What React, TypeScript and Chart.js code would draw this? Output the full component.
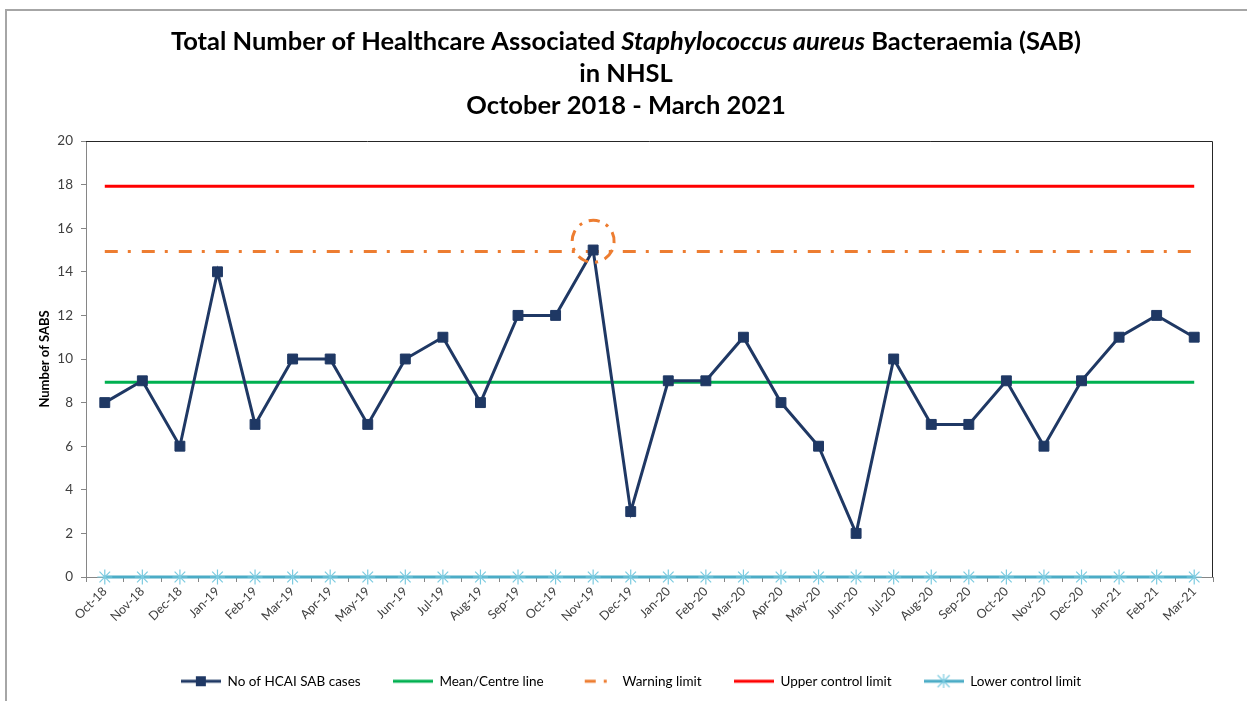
import React, { useEffect, useRef } from 'react';
import { Chart, registerables } from 'chart.js';

Chart.register(...registerables);

const months = [
  'Oct-18', 'Nov-18', 'Dec-18', 'Jan-19', 'Feb-19', 'Mar-19', 'Apr-19', 'May-19', 'Jun-19', 'Jul-19',
  'Aug-19', 'Sep-19', 'Oct-19', 'Nov-19', 'Dec-19', 'Jan-20', 'Feb-20', 'Mar-20', 'Apr-20', 'May-20',
  'Jun-20', 'Jul-20', 'Aug-20', 'Sep-20', 'Oct-20', 'Nov-20', 'Dec-20', 'Jan-21', 'Feb-21', 'Mar-21',
];
const sabCases = [8, 9, 6, 14, 7, 10, 10, 7, 10, 11, 8, 12, 12, 15, 3, 9, 9, 11, 8, 6, 2, 10, 7, 7, 9, 6, 9, 11, 12, 11];
const meanValue = 8.93;
const warningLimit = 14.93;
const upperLimit = 17.93;
const lowerLimit = 0;
const yTicks = [0, 2, 4, 6, 8, 10, 12, 14, 16, 18, 20];
const highlightedMonth = 'Nov-19';
const highlightCentre = 15.4;

const titleLine1 = [
  { text: 'Total Number of Healthcare Associated ', italic: false },
  { text: 'Staphylococcus aureus', italic: true },
  { text: ' Bacteraemia (SAB)', italic: false },
];
const titleLine2 = 'in NHSL';
const titleLine3 = 'October 2018 - March 2021';

const FONT = 'Lato, "Noto Sans", sans-serif';
const NAVY = '#1f3864';
const GREEN = '#00b050';
const ORANGE = '#ed7d31';
const RED = '#ff0000';
const BLUE = '#4bacc6';
const STAR = '#7ccbe0';
const DASHDOT = [13, 10, 3, 11];

function symbolCanvas(draw: (ctx: CanvasRenderingContext2D) => void) {
  const c = document.createElement('canvas');
  c.width = 40;
  c.height = 14;
  const ctx = c.getContext('2d')!;
  draw(ctx);
  return c;
}

function hLine(ctx: CanvasRenderingContext2D, color: string) {
  ctx.strokeStyle = color;
  ctx.lineWidth = 3;
  ctx.beginPath();
  ctx.moveTo(0, 7);
  ctx.lineTo(40, 7);
  ctx.stroke();
}

const framePlugin = {
  id: 'frame',
  beforeDraw(chart: any) {
    const ctx = chart.ctx;
    ctx.save();
    ctx.fillStyle = '#ffffff';
    ctx.fillRect(0, 0, chart.width, chart.height);
    ctx.strokeStyle = '#a6a6a6';
    ctx.lineWidth = 2;
    ctx.beginPath();
    ctx.moveTo(6, chart.height);
    ctx.lineTo(6, 10);
    ctx.lineTo(chart.width, 10);
    ctx.stroke();
    ctx.restore();
  },
  beforeDatasetsDraw(chart: any) {
    const { ctx, chartArea } = chart;
    ctx.save();
    ctx.strokeStyle = '#262626';
    ctx.lineWidth = 1;
    ctx.beginPath();
    ctx.moveTo(chartArea.left, chartArea.top + 0.5);
    ctx.lineTo(chartArea.right - 0.5, chartArea.top + 0.5);
    ctx.lineTo(chartArea.right - 0.5, chartArea.bottom);
    ctx.stroke();
    ctx.restore();
  },
};

const titlePlugin = {
  id: 'mixedTitle',
  afterDraw(chart: any) {
    const ctx = chart.ctx;
    const cx = 626;
    const size = 25.5;
    ctx.save();
    ctx.fillStyle = '#000000';
    ctx.textBaseline = 'middle';
    ctx.textAlign = 'left';
    const fontFor = (italic: boolean) => `${italic ? 'italic ' : ''}bold ${size}px ${FONT}`;
    let total = 0;
    const widths = titleLine1.map((p) => {
      ctx.font = fontFor(p.italic);
      const w = ctx.measureText(p.text).width;
      total += w;
      return w;
    });
    let x = cx - total / 2;
    titleLine1.forEach((p, i) => {
      ctx.font = fontFor(p.italic);
      ctx.fillText(p.text, x, 42);
      x += widths[i];
    });
    ctx.font = fontFor(false);
    ctx.textAlign = 'center';
    ctx.fillText(titleLine2, cx, 74);
    ctx.fillText(titleLine3, cx, 106);
    ctx.restore();
  },
};

const highlightPlugin = {
  id: 'highlight',
  afterDatasetsDraw(chart: any) {
    const { ctx, scales } = chart;
    const x = scales.x.getPixelForValue(months.indexOf(highlightedMonth));
    const y = scales.y.getPixelForValue(highlightCentre);
    ctx.save();
    ctx.strokeStyle = ORANGE;
    ctx.lineWidth = 3;
    ctx.setLineDash([11, 7, 3, 7]);
    ctx.beginPath();
    ctx.arc(x, y, 21, Math.PI * 0.15, Math.PI * 2.15);
    ctx.stroke();
    ctx.restore();
  },
};

export default function App() {
  const ref = useRef<HTMLCanvasElement | null>(null);

  useEffect(() => {
    if (!ref.current) return;
    const constant = (v: number) => months.map(() => v);

    const legendSymbols = [
      symbolCanvas((ctx) => {
        hLine(ctx, NAVY);
        ctx.fillStyle = NAVY;
        ctx.fillRect(15, 2, 10, 10);
      }),
      symbolCanvas((ctx) => hLine(ctx, GREEN)),
      symbolCanvas((ctx) => {
        ctx.fillStyle = ORANGE;
        ctx.fillRect(9, 5.5, 11, 3);
        ctx.fillRect(28, 5.5, 3, 3);
      }),
      symbolCanvas((ctx) => hLine(ctx, RED)),
      symbolCanvas((ctx) => {
        hLine(ctx, BLUE);
        ctx.strokeStyle = STAR;
        ctx.lineWidth = 1.2;
        ctx.beginPath();
        ctx.moveTo(20, 0);
        ctx.lineTo(20, 14);
        ctx.moveTo(14, 1);
        ctx.lineTo(26, 13);
        ctx.moveTo(26, 1);
        ctx.lineTo(14, 13);
        ctx.stroke();
      }),
    ];

    const chart = new Chart(ref.current, {
      type: 'line',
      data: {
        labels: months,
        datasets: [
          {
            label: 'No of HCAI SAB cases',
            data: sabCases,
            borderColor: NAVY,
            backgroundColor: NAVY,
            borderWidth: 3,
            pointStyle: 'rect',
            pointRadius: 7,
            pointBorderWidth: 1,
            tension: 0,
          },
          {
            label: 'Mean/Centre line',
            data: constant(meanValue),
            borderColor: GREEN,
            backgroundColor: GREEN,
            borderWidth: 3,
            pointRadius: 0,
          },
          {
            label: 'Warning limit',
            data: constant(warningLimit),
            borderColor: ORANGE,
            backgroundColor: ORANGE,
            borderWidth: 3,
            borderDash: DASHDOT,
            pointRadius: 0,
          },
          {
            label: 'Upper control limit',
            data: constant(upperLimit),
            borderColor: RED,
            backgroundColor: RED,
            borderWidth: 3,
            pointRadius: 0,
          },
          {
            label: 'Lower control limit',
            data: constant(lowerLimit),
            borderColor: BLUE,
            backgroundColor: STAR,
            pointBorderColor: STAR,
            borderWidth: 3,
            pointStyle: 'star',
            pointRadius: 7.5,
            pointBorderWidth: 1.2,
            clip: false,
          },
        ],
      },
      options: {
        animation: false,
        responsive: false,
        maintainAspectRatio: false,
        layout: { padding: { top: 141, left: 15, right: 0, bottom: 3 } },
        plugins: {
          title: { display: false },
          tooltip: { enabled: false },
          legend: {
            position: 'bottom',
            labels: {
              usePointStyle: true,
              pointStyleWidth: 40,
              padding: 32,
              color: '#000000',
              font: { family: FONT, size: 13.5 },
              generateLabels: (c: any) =>
                c.data.datasets.map((ds: any, i: number) => ({
                  text: ds.label,
                  pointStyle: legendSymbols[i],
                  fillStyle: 'transparent',
                  strokeStyle: 'transparent',
                  lineWidth: 0,
                  hidden: false,
                  datasetIndex: i,
                  fontColor: '#000000',
                })),
            },
          },
        },
        scales: {
          x: {
            type: 'category',
            offset: true,
            afterFit: (s: any) => {
              s.height = 65.5;
            },
            grid: {
              display: true,
              offset: true,
              drawOnChartArea: false,
              drawTicks: true,
              tickLength: 5,
              color: '#868686',
            },
            border: { display: true, color: '#868686', width: 1 },
            ticks: {
              autoSkip: false,
              maxRotation: 45,
              minRotation: 45,
              padding: 2,
              color: '#404040',
              font: { family: FONT, size: 12.5 },
            },
          },
          y: {
            min: 0,
            max: 20,
            afterFit: (s: any) => {
              s.width = 71;
            },
            afterBuildTicks: (s: any) => {
              s.ticks = yTicks.map((v) => ({ value: v }));
            },
            grid: {
              display: true,
              drawOnChartArea: false,
              drawTicks: true,
              tickLength: 5,
              color: '#868686',
            },
            border: { display: true, color: '#868686', width: 1 },
            ticks: {
              padding: 8,
              color: '#404040',
              font: { family: FONT, size: 13.5 },
            },
            title: {
              display: true,
              text: 'Number of SABS',
              color: '#000000',
              font: { family: FONT, size: 13, weight: 'bold' },
              padding: { top: 22, bottom: 0 },
            },
          },
          yRight: {
            position: 'right',
            min: 0,
            max: 20,
            afterFit: (s: any) => {
              s.width = 34;
            },
            grid: { display: false, drawOnChartArea: false },
            border: { display: false },
            ticks: { display: false },
          },
        },
      },
      plugins: [framePlugin, titlePlugin, highlightPlugin],
    } as any);

    return () => chart.destroy();
  }, []);

  return (
    <div style={{ position: 'fixed', left: 0, top: 0, width: 1247, height: 701, background: '#fff' }}>
      <canvas ref={ref} width={1247} height={701} style={{ display: 'block', width: 1247, height: 701 }} />
    </div>
  );
}
